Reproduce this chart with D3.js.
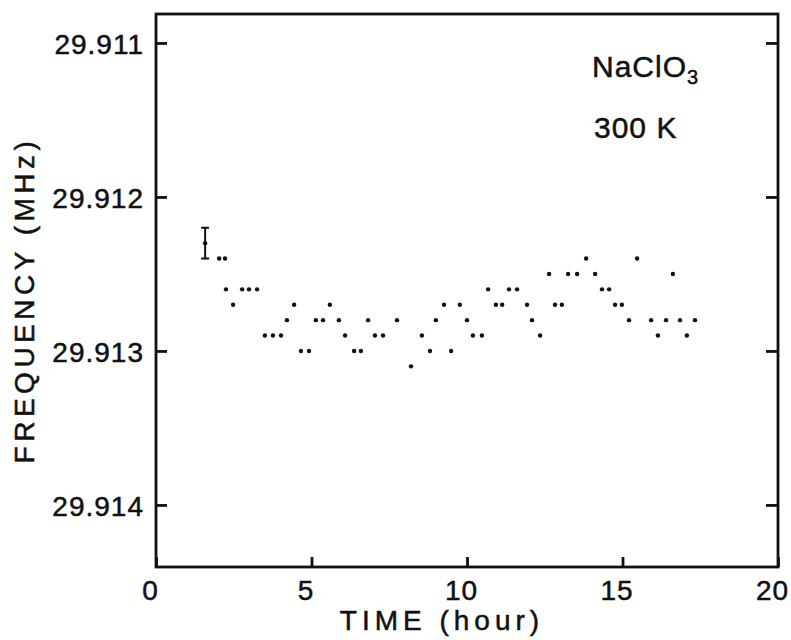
<!DOCTYPE html>
<html>
<head>
<meta charset="utf-8">
<script src="https://cdn.jsdelivr.net/npm/d3@7"></script>
<style>
  body { margin: 0; background: #fff; }
  svg { display: block; font-family: "Liberation Sans", Arial, sans-serif; }
  .tick text { font-size: 28px; fill: #111; stroke: #111; stroke-width: 0.5px; letter-spacing: 1px; }
  .lbl { fill: #111; stroke: #111; stroke-width: 0.5px; }
</style>
</head>
<body>
<div id="plot"></div>
<script>
// measured frequency (MHz) vs time (hour), NaClO3 at 300 K
const hours = [
  2.03, 2.22, 2.25, 2.48, 2.77, 2.99, 3.25, 3.50, 3.76, 4.02,
  4.21, 4.44, 4.66, 4.92, 5.14, 5.37, 5.59, 5.88, 6.08, 6.37,
  6.59, 6.82, 7.04, 7.30, 7.75, 8.20, 8.55, 8.81, 9.00, 9.26,
  9.49, 9.77, 10.00, 10.19, 10.48, 10.68, 10.93, 11.13, 11.35, 11.61,
  11.93, 12.09, 12.35, 12.64, 12.83, 13.05, 13.25, 13.54, 13.83, 14.12,
  14.34, 14.57, 14.76, 14.98, 15.21, 15.47, 15.92, 16.14, 16.40, 16.62,
  16.85, 17.07, 17.33
];
const freqs = [
  29.9124, 29.9124, 29.9126, 29.9127, 29.9126, 29.9126, 29.9126, 29.9129, 29.9129, 29.9129,
  29.9128, 29.9127, 29.9130, 29.9130, 29.9128, 29.9128, 29.9127, 29.9128, 29.9129, 29.9130,
  29.9130, 29.9128, 29.9129, 29.9129, 29.9128, 29.9131, 29.9129, 29.9130, 29.9128, 29.9127,
  29.9130, 29.9127, 29.9128, 29.9129, 29.9129, 29.9126, 29.9127, 29.9127, 29.9126, 29.9126,
  29.9127, 29.9128, 29.9129, 29.9125, 29.9127, 29.9127, 29.9125, 29.9125, 29.9124, 29.9125,
  29.9126, 29.9126, 29.9127, 29.9127, 29.9128, 29.9124, 29.9128, 29.9129, 29.9128, 29.9125,
  29.9128, 29.9129, 29.9128
];
// first reading with its error bar
const errPoint = { hour: 1.58, freq: 29.9123, err: 0.0001 };

const xTicks = [0, 5, 10, 15, 20];
const yTicks = [29.911, 29.912, 29.913, 29.914];

const W = 791, H = 640;
const box = { left: 156, right: 778, top: 14, bottom: 567 };

const svg = d3.select("#plot").append("svg")
  .attr("width", W)
  .attr("height", H);

const x = d3.scaleLinear().domain([0, 20]).range([box.left, box.right]);
// frequency axis runs downward
const y = d3.scaleLinear().domain([29.910812, 29.914403]).range([box.top, box.bottom]);

// frame
svg.append("rect")
  .attr("x", box.left).attr("y", box.top)
  .attr("width", box.right - box.left)
  .attr("height", box.bottom - box.top)
  .attr("fill", "none")
  .attr("stroke", "#111")
  .attr("stroke-width", 2.8);

// left axis
const gl = svg.append("g")
  .attr("transform", `translate(${box.left},0)`)
  .call(d3.axisLeft(y).tickValues(yTicks).tickFormat(d3.format(".3f")).tickSize(-11).tickPadding(12));
// right axis, ticks only
const gr = svg.append("g")
  .attr("transform", `translate(${box.right},0)`)
  .call(d3.axisRight(y).tickValues(yTicks).tickFormat("").tickSize(-12));
// bottom axis
const gb = svg.append("g")
  .attr("transform", `translate(0,${box.bottom})`)
  .call(d3.axisBottom(x).tickValues(xTicks).tickSize(-10).tickPadding(10));

[gl, gr, gb].forEach(g => {
  g.select(".domain").remove();
  g.selectAll(".tick line").attr("stroke", "#111").attr("stroke-width", 2.8);
});
gl.selectAll(".tick text").attr("x", -12).attr("dy", "0.36em");
gb.selectAll(".tick text").attr("x", -6).attr("dy", "0.82em");

// axis titles
svg.append("text")
  .attr("class", "lbl")
  .attr("x", 442).attr("y", 630)
  .attr("text-anchor", "middle")
  .attr("font-size", 28)
  .attr("letter-spacing", 5)
  .text("TIME (hour)");

svg.append("text")
  .attr("class", "lbl")
  .attr("transform", "translate(34,300) rotate(-90)")
  .attr("text-anchor", "middle")
  .attr("font-size", 28)
  .attr("letter-spacing", 4.5)
  .text("FREQUENCY (MHz)");

// annotation
const note = svg.append("text")
  .attr("class", "lbl")
  .attr("x", 592).attr("y", 77)
  .attr("font-size", 30)
  .attr("letter-spacing", 1);
note.append("tspan").text("NaClO");
note.append("tspan").attr("font-size", 20).attr("dy", 7).text("3");

svg.append("text")
  .attr("class", "lbl")
  .attr("x", 594).attr("y", 138)
  .attr("font-size", 30)
  .attr("letter-spacing", 1)
  .text("300 K");

// data points
svg.append("g")
  .selectAll("circle")
  .data(hours.map((h, i) => ({ h, f: freqs[i] })))
  .join("circle")
  .attr("cx", d => x(d.h))
  .attr("cy", d => y(d.f))
  .attr("r", 2.2)
  .attr("fill", "#111");

// error bar point
const eb = svg.append("g").attr("stroke", "#111").attr("stroke-width", 2);
const ex = x(errPoint.hour);
eb.append("line")
  .attr("x1", ex).attr("x2", ex)
  .attr("y1", y(errPoint.freq - errPoint.err))
  .attr("y2", y(errPoint.freq + errPoint.err));
[errPoint.freq - errPoint.err, errPoint.freq + errPoint.err].forEach(v => {
  eb.append("line")
    .attr("x1", ex - 4).attr("x2", ex + 4)
    .attr("y1", y(v)).attr("y2", y(v));
});
svg.append("circle")
  .attr("cx", ex).attr("cy", y(errPoint.freq))
  .attr("r", 2.2).attr("fill", "#111");
</script>
</body>
</html>
